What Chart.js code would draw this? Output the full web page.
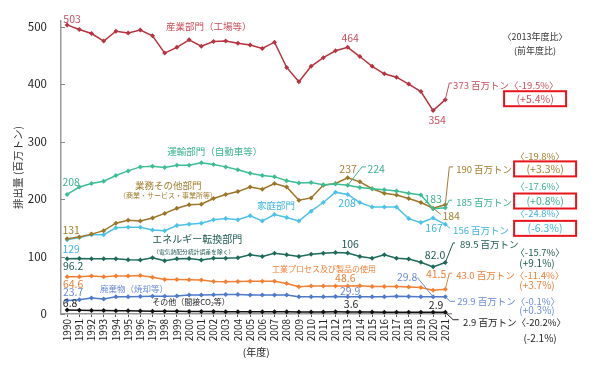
<!DOCTYPE html>
<html>
<head>
<meta charset="utf-8">
<script src="https://cdn.jsdelivr.net/npm/chart.js@4.4.1/dist/chart.umd.min.js"></script>
<style>
  html, body { margin: 0; padding: 0; background: #fff; }
  #chart { display: block; }
</style>
</head>
<body>
<canvas id="chart" width="600" height="370"></canvas>
<script>
// 年度
const years = ['1990','1991','1992','1993','1994','1995','1996','1997','1998','1999',
               '2000','2001','2002','2003','2004','2005','2006','2007','2008','2009',
               '2010','2011','2012','2013','2014','2015','2016','2017','2018','2019',
               '2020','2021'];

// 部門別排出量（百万トン）
const industry   = [503,495,488,475,492,489,494,484,454,464, 477,466,474,475,471,468,462,473,429,404, 431,446,458,464,448,431,418,412,400,387, 354,373];
const transport  = [208,221,227,231,241,249,256,257,255,259, 259,263,260,256,251,245,241,239,232,228, 229,225,226,224,220,218,216,214,210,207, 183,185];
const commercial = [131,134,139,145,158,163,162,167,175,184, 190,191,201,208,213,221,217,227,221,198, 202,224,227,237,230,218,210,207,201,194, 184,190];
const household  = [129,133,138,138,150,151,151,146,145,154, 156,158,164,166,164,171,162,173,168,162, 179,194,212,208,194,186,186,186,166,159, 167,156];
const energy     = [96.2,96.6,96,96,96,94.4,94,98,92.7,96, 96.6,94,97,97,98,103,100,105.6,103,100, 104,105.6,107,106,100,97,103,97,95.5,90, 82.0,89.5];
const process    = [64.6,65,66,65,66,66,67,64,60,60, 59.5,59,56.5,56,56.5,57,57,57,53,47.5, 48.6,48.6,48.6,48.6,49,48,48,48,47,46, 41.5,43.0];
const waste      = [23.7,25,27.7,26,30,30,30.5,31,31,31.5, 33,33,33.5,34,34,33,33,33,33,30, 30,30,30.5,29.9,30,30,30,31,30.5,29.8, 30,29.9];
const other      = [6.8,6.5,6.2,5.9,5.7,5.5,5.3,5.0,4.7,4.6, 4.5,4.3,4.2,4.1,4.0,3.9,3.9,3.8,3.7,3.6, 3.6,3.6,3.7,3.6,3.5,3.3,3.2,3.1,3.1,3.0, 2.9,2.9];

const yTicks = [0, 100, 200, 300, 400, 500];

// 色
const C = {
  ind: '#B7333F', indT: '#C9505A',
  tra: '#3DBE92', traT: '#3AB58A',
  com: '#9C7627', comT: '#A47E2E',
  hou: '#4CC2E8', houT: '#3CB4DE',
  ene: '#1E6A5B', eneT: '#1E5A50',
  pro: '#F28034', proT: '#F08038',
  was: '#4D79C9', wasT: '#6A8BD8',
  oth: '#111111', othT: '#222222',
  dark: '#333333', box: '#E8141B'
};

const FONT = "'Noto Sans CJK JP', 'Noto Sans', sans-serif";
Chart.defaults.font.family = FONT;

function ds(data, color) {
  return {
    data: data,
    borderColor: color,
    backgroundColor: color,
    borderWidth: 1.5,
    pointStyle: 'rectRot',
    pointRadius: 2.5,
    pointBorderWidth: 0,
    tension: 0
  };
}

// ラベル: [テキスト, x(年度の位置), y(値), 色, サイズ, 揃え, 枠]
const notes = [
  ['503', 0.41, 513.6, C.indT, 10.5, 'center'],
  ['産業部門（工場等）', 8.11, 500, C.indT, 9.5, 'left'],
  ['464', 23.2, 481, C.indT, 10.5, 'center'],
  ['354', 30.33, 337, C.indT, 10.5, 'center'],
  ['373 百万トン〈-19.5%〉', 31.64, 398, C.indT, 9.5, 'left'],
  ['(+5.4%)', 38.36, 374.6, C.indT, 10.5, 'center', true],
  ['〈2013年度比〉', 38.36, 483, C.dark, 9, 'center'],
  ['(前年度比)', 38.36, 459, C.dark, 9, 'center'],

  ['運輸部門（自動車等）', 8.2, 283, C.traT, 9.5, 'left'],
  ['208', 0.33, 228.8, C.traT, 10.5, 'center'],
  ['業務その他部門', 5.57, 223.7, C.comT, 9.5, 'left'],
  ['（商業・サービス・事業所等）', 4.26, 206.8, C.comT, 7, 'left'],
  ['131', 0.33, 145.8, C.comT, 10.5, 'center'],
  ['129', 0.33, 113.6, C.houT, 10.5, 'center'],
  ['エネルギー転換部門', 6.97, 130.5, C.eneT, 10, 'left'],
  ['（電気熱配分統計誤差を除く）', 7.05, 108.5, C.eneT, 5.8, 'left'],
  ['家庭部門', 15.57, 189.8, C.houT, 9.5, 'left'],
  ['237', 23.03, 252.5, C.comT, 10.5, 'center'],
  ['224', 25.33, 252.5, C.traT, 10.5, 'center'],
  ['208', 22.95, 193.2, C.houT, 10.5, 'center'],
  ['183', 30.0, 200, C.traT, 10.5, 'center'],
  ['184', 31.48, 171.2, C.comT, 10.5, 'center'],
  ['190 百万トン', 31.89, 250.8, C.comT, 9.5, 'left'],
  ['〈-19.8%〉', 38.77, 274.6, C.comT, 9.5, 'center'],
  ['(+3.3%)', 39.18, 252.5, C.comT, 10.5, 'center', true],
  ['〈-17.6%〉', 38.77, 222, C.traT, 9.5, 'center'],
  ['185 百万トン', 31.89, 195, C.traT, 9.5, 'left'],
  ['(+0.8%)', 39.18, 196.6, C.traT, 10.5, 'center', true],
  ['〈-24.8%〉', 38.77, 174.6, C.houT, 9.5, 'center'],
  ['156 百万トン', 31.64, 145.8, C.houT, 9.5, 'left'],
  ['(-6.3%)', 39.18, 149, C.houT, 10.5, 'center', true],
  ['167', 30.08, 149, C.houT, 10.5, 'center'],

  ['96.2', 0.49, 83, C.eneT, 10.5, 'center'],
  ['64.6', 0.49, 52.5, C.proT, 10.5, 'center'],
  ['23.7', 0.49, 39, C.wasT, 10.5, 'center'],
  ['6.8', 0.25, 18.6, C.othT, 10.5, 'center'],
  ['廃棄物（焼却等）', 2.7, 44, C.wasT, 8.5, 'left'],
  ['その他（間接CO₂等）', 6.97, 20.3, C.othT, 8, 'left'],
  ['工業プロセス及び製品の使用', 16.8, 78, C.proT, 8, 'left'],
  ['106', 23.2, 122, C.eneT, 10.5, 'center'],
  ['48.6', 22.8, 62.7, C.proT, 10.5, 'center'],
  ['29.9', 23.2, 40.7, C.wasT, 10.5, 'center'],
  ['3.6', 23.28, 17, C.othT, 10.5, 'center'],
  ['29.8', 27.87, 64.4, C.wasT, 10.5, 'center'],
  ['41.5', 30.25, 69.5, C.proT, 10.5, 'center'],
  ['82.0', 30.16, 103.4, C.eneT, 10.5, 'center'],
  ['89.5 百万トン', 32.2, 120.3, C.eneT, 9.5, 'left'],
  ['〈-15.7%〉', 38.77, 106.8, C.eneT, 9.5, 'center'],
  ['(+9.1%)', 38.52, 88.1, C.eneT, 10, 'center'],
  ['43.0 百万トン〈-11.4%〉', 31.89, 67.8, C.proT, 9.5, 'left'],
  ['(+3.7%)', 38.52, 50.8, C.proT, 10, 'center'],
  ['29.9 百万トン〈-0.1%〉', 31.97, 22, C.wasT, 9.5, 'left'],
  ['(+0.3%)', 38.52, 6.8, C.wasT, 10, 'center'],
  ['2.9', 30.25, 15.3, C.othT, 10.5, 'center'],
  ['2.9 百万トン〈-20.2%〉', 32.46, -15.3, C.othT, 9.5, 'left'],
  ['(-2.1%)', 38.77, -42.4, C.othT, 10, 'center']
];

// 引き出し線: [[x, y], ...], 色
const leaders = [
  [[[31, 373], [31.33, 402], [31.56, 402]], C.indT],
  [[[23, 224], [24.18, 256], [24.5, 256]], C.traT],
  [[[31, 190], [31.33, 256], [31.64, 256]], C.comT],
  [[[31, 185], [31.33, 198], [31.56, 198]], C.traT],
  [[[30, 184], [30.63, 173.4]], C.comT],
  [[[31, 156], [31.4, 149]], C.houT],
  [[[31, 89.5], [31.64, 123.7], [31.8, 123.7]], C.eneT],
  [[[31, 43.0], [31.33, 71], [31.56, 71]], C.proT],
  [[[28.7, 63.7], [30, 30]], C.wasT],
  [[[31, 29.9], [31.4, 22], [31.8, 22]], C.wasT],
  [[[31, 2.9], [31.64, -10], [32.1, -10]], C.othT]
];

const notesPlugin = {
  id: 'notes',
  afterDatasetsDraw(chart) {
    const {ctx, scales: {x, y}, chartArea} = chart;
    const x0 = x.getPixelForValue(0);
    const step = x.getPixelForValue(1) - x0;
    const px = i => x0 + i * step;
    const py = v => y.getPixelForValue(v);

    ctx.save();
    // y軸の目盛（内向き）
    ctx.strokeStyle = '#888';
    ctx.lineWidth = 1;
    yTicks.forEach(t => {
      const yy = Math.round(py(t)) + 0.5;
      ctx.beginPath();
      ctx.moveTo(chartArea.left, yy);
      ctx.lineTo(chartArea.left + 4, yy);
      ctx.stroke();
    });

    // 引き出し線
    leaders.forEach(([pts, color]) => {
      ctx.strokeStyle = color;
      ctx.lineWidth = 1;
      ctx.beginPath();
      pts.forEach(([i, v], k) => {
        if (k === 0) ctx.moveTo(px(i), py(v));
        else ctx.lineTo(px(i), py(v));
      });
      ctx.stroke();
    });

    // テキスト
    ctx.textBaseline = 'middle';
    notes.forEach(([text, i, v, color, size, align, box]) => {
      ctx.font = size + 'px ' + FONT;
      ctx.fillStyle = color;
      ctx.textAlign = align;
      const tx = px(i), ty = py(v);
      ctx.fillText(text, tx, ty);
      if (box) {
        ctx.strokeStyle = C.box;
        ctx.lineWidth = 2;
        ctx.strokeRect(tx - 31, ty - 7.5, 62, 15);
      }
    });
    ctx.restore();
  }
};

new Chart(document.getElementById('chart'), {
  type: 'line',
  data: {
    labels: years,
    datasets: [
      ds(industry, C.ind),
      ds(transport, C.tra),
      ds(commercial, C.com),
      ds(household, C.hou),
      ds(energy, C.ene),
      ds(process, C.pro),
      ds(waste, C.was),
      ds(other, C.oth)
    ]
  },
  options: {
    responsive: false,
    animation: false,
    layout: { padding: { left: 0, right: 148.6, top: 13, bottom: 0 } },
    plugins: {
      legend: { display: false },
      tooltip: { enabled: false }
    },
    scales: {
      x: {
        offset: true,
        grid: { display: true, drawOnChartArea: false, drawTicks: true, tickLength: 3, color: '#555' },
        border: { display: true, color: '#999', width: 1.5 },
        ticks: { autoSkip: false, maxRotation: 90, minRotation: 90, font: { size: 10 }, color: '#222', padding: 2 },
        title: { display: true, text: '(年度)', font: { size: 10 }, color: '#222', padding: { top: 0, bottom: 12 } },
        afterFit: s => { s.height = 56; }
      },
      y: {
        min: 0,
        max: 510,
        grid: { display: false, drawTicks: false },
        border: { display: true, color: '#999', width: 1.5 },
        ticks: { padding: 14, font: { size: 11.5 }, color: '#222' },
        afterBuildTicks: s => { s.ticks = yTicks.map(v => ({ value: v })); },
        title: { display: true, text: '排出量 (百万トン)', font: { size: 10.5 }, color: '#333', padding: { top: 12, bottom: 0 } },
        afterFit: s => { s.width = 61; }
      }
    }
  },
  plugins: [notesPlugin]
});
</script>
</body>
</html>
